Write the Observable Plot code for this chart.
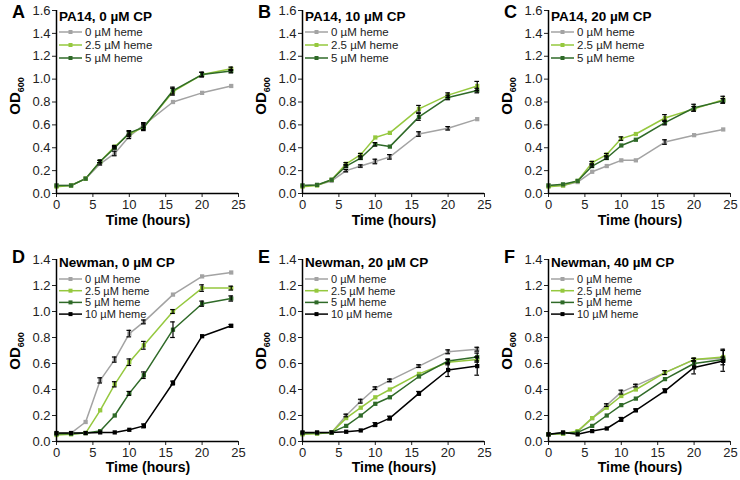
<!DOCTYPE html>
<html>
<head>
<meta charset="utf-8">
<script src="https://cdn.jsdelivr.net/npm/d3@7"></script>
<script src="https://cdn.jsdelivr.net/npm/@observablehq/plot@0.6"></script>
<style>
  html, body { margin: 0; padding: 0; background: #fff; }
  #root { position: relative; width: 740px; height: 480px; overflow: hidden; font-family: "Liberation Sans", Arial, sans-serif; }
  .panel { position: absolute; }
  .panel svg g[aria-label$="tick label"], .panel svg g[aria-label$="tick label"] text { font-size: 13px !important; }
</style>
</head>
<body>
<div id="root"></div>
<script>
// ---------- DATA ----------
const hours = [0, 2, 4, 6, 8, 10, 12, 16, 20, 24];
const hemeLabels = ["0 µM heme", "2.5 µM heme", "5 µM heme", "10 µM heme"];
const panelLetters = ["A", "B", "C", "D", "E", "F"];
const panelTitles = ["PA14, 0 µM CP", "PA14, 10 µM CP", "PA14, 20 µM CP",
                     "Newman, 0 µM CP", "Newman, 20 µM CP", "Newman, 40 µM CP"];
const xTicks = [0, 5, 10, 15, 20, 25];
const yTicksPA14 = [0, 0.2, 0.4, 0.6, 0.8, 1.0, 1.2, 1.4, 1.6];
const yTicksNewman = [0, 0.2, 0.4, 0.6, 0.8, 1.0, 1.2, 1.4];

// Panel A: PA14, 0 µM CP
const A_heme0   = [0.07, 0.07, 0.13, 0.26, 0.35, 0.50, 0.60, 0.80, 0.88, 0.94];
const A_heme2_5 = [0.06, 0.07, 0.13, 0.28, 0.41, 0.52, 0.58, 0.89, 1.04, 1.09];
const A_heme5   = [0.07, 0.07, 0.13, 0.28, 0.40, 0.53, 0.58, 0.90, 1.04, 1.07];
const A_err0    = [0, 0, 0, 0.01, 0.02, 0.02, 0.02, 0, 0, 0];
const A_err2_5  = [0, 0, 0, 0.01, 0.01, 0.02, 0.02, 0.03, 0.02, 0.015];
const A_err5    = [0, 0, 0, 0.01, 0.01, 0.02, 0.03, 0.03, 0.02, 0.015];

// Panel B: PA14, 10 µM CP
const B_heme0   = [0.07, 0.075, 0.11, 0.20, 0.24, 0.28, 0.32, 0.52, 0.57, 0.65];
const B_heme2_5 = [0.06, 0.07, 0.12, 0.26, 0.34, 0.49, 0.53, 0.74, 0.86, 0.94];
const B_heme5   = [0.07, 0.075, 0.12, 0.24, 0.31, 0.43, 0.41, 0.67, 0.84, 0.90];
const B_err0    = [0, 0, 0, 0.01, 0.01, 0.02, 0.02, 0.02, 0.015, 0];
const B_err2_5  = [0, 0, 0, 0.01, 0.01, 0, 0, 0.03, 0.02, 0.04];
const B_err5    = [0, 0, 0, 0.01, 0.01, 0.015, 0, 0.03, 0.02, 0.02];

// Panel C: PA14, 20 µM CP
const C_heme0   = [0.07, 0.07, 0.10, 0.19, 0.24, 0.29, 0.29, 0.45, 0.51, 0.56];
const C_heme2_5 = [0.06, 0.07, 0.11, 0.27, 0.34, 0.48, 0.52, 0.66, 0.74, 0.82];
const C_heme5   = [0.07, 0.08, 0.11, 0.24, 0.31, 0.42, 0.47, 0.62, 0.75, 0.81];
const C_err0    = [0, 0, 0, 0, 0, 0, 0, 0.02, 0, 0];
const C_err2_5  = [0, 0, 0, 0.01, 0.01, 0.015, 0, 0.03, 0.02, 0.03];
const C_err5    = [0, 0, 0, 0.01, 0.01, 0, 0, 0.02, 0.03, 0.02];

// Panel D: Newman, 0 µM CP
const D_heme0   = [0.06, 0.065, 0.15, 0.47, 0.63, 0.83, 0.92, 1.13, 1.27, 1.30];
const D_heme2_5 = [0.05, 0.055, 0.065, 0.24, 0.44, 0.61, 0.74, 1.00, 1.18, 1.18];
const D_heme5   = [0.06, 0.06, 0.065, 0.08, 0.20, 0.37, 0.51, 0.86, 1.06, 1.10];
const D_heme10  = [0.065, 0.065, 0.065, 0.07, 0.07, 0.09, 0.12, 0.45, 0.81, 0.89];
const D_err0    = [0, 0, 0, 0.02, 0.02, 0.025, 0.015, 0, 0, 0];
const D_err2_5  = [0, 0, 0, 0, 0.02, 0.025, 0.03, 0.015, 0.025, 0.015];
const D_err5    = [0, 0, 0, 0, 0, 0.015, 0.025, 0.06, 0.02, 0.02];
const D_err10   = [0, 0, 0, 0, 0, 0, 0.015, 0.015, 0, 0.01];

// Panel E: Newman, 20 µM CP
const E_heme0   = [0.06, 0.065, 0.07, 0.20, 0.31, 0.41, 0.47, 0.58, 0.69, 0.71];
const E_heme2_5 = [0.055, 0.06, 0.07, 0.18, 0.26, 0.34, 0.40, 0.52, 0.61, 0.63];
const E_heme5   = [0.065, 0.065, 0.07, 0.12, 0.20, 0.29, 0.34, 0.50, 0.62, 0.65];
const E_heme10  = [0.07, 0.07, 0.07, 0.075, 0.085, 0.13, 0.18, 0.37, 0.55, 0.58];
const E_err0    = [0, 0, 0, 0.01, 0.015, 0.01, 0.01, 0.01, 0.015, 0.015];
const E_err2_5  = [0, 0, 0, 0, 0, 0, 0, 0, 0.02, 0.02];
const E_err5    = [0, 0, 0, 0, 0, 0, 0, 0, 0.015, 0.03];
const E_err10   = [0, 0, 0, 0, 0, 0.015, 0.015, 0.015, 0.05, 0.07];

// Panel F: Newman, 40 µM CP
const F_heme0   = [0.055, 0.06, 0.075, 0.18, 0.28, 0.38, 0.43, 0.53, 0.63, 0.64];
const F_heme2_5 = [0.055, 0.06, 0.08, 0.18, 0.26, 0.35, 0.40, 0.53, 0.63, 0.65];
const F_heme5   = [0.055, 0.065, 0.07, 0.12, 0.20, 0.28, 0.33, 0.48, 0.60, 0.63];
const F_heme10  = [0.055, 0.07, 0.055, 0.08, 0.10, 0.17, 0.24, 0.39, 0.57, 0.62];
const F_err0    = [0, 0, 0, 0, 0.01, 0.015, 0.01, 0.015, 0.01, 0.01];
const F_err2_5  = [0, 0, 0, 0, 0, 0, 0, 0, 0.01, 0.06];
const F_err5    = [0, 0, 0, 0, 0, 0, 0, 0, 0, 0];
const F_err10   = [0, 0, 0, 0, 0, 0.015, 0.01, 0.015, 0.05, 0.08];

// ---------- BUILD ----------
const colors = ["#a3a3a3", "#95c83e", "#2f6a28", "#000000"];

const panels = [
  {means: [A_heme0, A_heme2_5, A_heme5], errs: [A_err0, A_err2_5, A_err5]},
  {means: [B_heme0, B_heme2_5, B_heme5], errs: [B_err0, B_err2_5, B_err5]},
  {means: [C_heme0, C_heme2_5, C_heme5], errs: [C_err0, C_err2_5, C_err5]},
  {means: [D_heme0, D_heme2_5, D_heme5, D_heme10], errs: [D_err0, D_err2_5, D_err5, D_err10]},
  {means: [E_heme0, E_heme2_5, E_heme5, E_heme10], errs: [E_err0, E_err2_5, E_err5, E_err10]},
  {means: [F_heme0, F_heme2_5, F_heme5, F_heme10], errs: [F_err0, F_err2_5, F_err5, F_err10]}
];

const root = document.getElementById("root");
const lefts = [0, 246, 492];
const W = 246, H = 240;

panels.forEach((p, i) => {
  const row = i < 3 ? 0 : 1;
  const col = i % 3;
  const top = row === 0;
  const yTicks = top ? yTicksPA14 : yTicksNewman;
  const yMax = yTicks[yTicks.length - 1];
  const nS = p.means.length;
  const labels = hemeLabels.slice(0, nS);
  const data = [];
  p.means.forEach((arr, s) => {
    arr.forEach((v, k) => data.push({t: hours[k], v, e: p.errs[s][k], s: hemeLabels[s]}));
  });
  const errData = data.filter(d => d.e > 0);
  const capHalf = 0.32;

  const chart = Plot.plot({
    width: W, height: H,
    marginLeft: 56, marginRight: 8,
    marginTop: top ? 10 : 19,
    marginBottom: top ? 47 : 39,
    style: {fontFamily: "'Liberation Sans', Arial, sans-serif", fontSize: "13px", color: "#222", background: "transparent", overflow: "visible"},
    x: {domain: [0, 25], ticks: xTicks, tickSize: 4, tickPadding: 2, label: null},
    y: {domain: [0, yMax], ticks: yTicks, tickFormat: d3.format(".1f"), tickSize: 4, tickPadding: 2, label: null},
    color: {domain: labels, range: colors.slice(0, nS)},
    marks: [
      Plot.line(data, {x: "t", y: "v", z: "s", stroke: "s", strokeWidth: 1.5}),
      Plot.dot(data, {x: "t", y: "v", fill: "s", symbol: "square", r: 2.4}),
      Plot.ruleX(errData, {x: "t", y1: d => d.v - d.e, y2: d => d.v + d.e, stroke: "#000", strokeWidth: 1.2}),
      Plot.ruleY(errData, {y: d => d.v + d.e, x1: d => d.t - capHalf, x2: d => d.t + capHalf, stroke: "#000", strokeWidth: 1.2}),
      Plot.ruleY(errData, {y: d => d.v - d.e, x1: d => d.t - capHalf, x2: d => d.t + capHalf, stroke: "#000", strokeWidth: 1.2}),
      Plot.ruleX([0], {stroke: "#000", strokeWidth: 1.5}),
      Plot.ruleY([0], {stroke: "#000", strokeWidth: 1.5})
    ]
  });

  const svg = d3.select(chart.tagName.toLowerCase() === "svg" ? chart : chart.querySelector("svg"));
  const font = "'Liberation Sans', Arial, sans-serif";

  // panel letter
  svg.append("text").attr("x", 12).attr("y", top ? 18 : 23).attr("text-anchor", "start")
    .attr("font-family", font).attr("font-size", 18).attr("font-weight", "bold").attr("fill", "#000")
    .text(panelLetters[i]);
  // title
  svg.append("text").attr("x", 59).attr("y", top ? 21 : 27).attr("text-anchor", "start")
    .attr("font-family", font).attr("font-size", 13.5).attr("font-weight", "bold").attr("fill", "#000")
    .text(panelTitles[i]);
  // legend
  const ly0 = top ? 32 : 39, lstep = top ? 13 : 11.7;
  labels.forEach((lab, s) => {
    const y = ly0 + s * lstep;
    svg.append("line").attr("x1", 59).attr("x2", 82).attr("y1", y).attr("y2", y)
      .attr("stroke", colors[s]).attr("stroke-width", 1.5);
    svg.append("rect").attr("x", 68.5).attr("y", y - 2).attr("width", 4).attr("height", 4).attr("fill", colors[s]);
    svg.append("text").attr("x", 85).attr("y", y).attr("dy", "0.35em").attr("text-anchor", "start")
      .attr("font-family", font).attr("font-size", top ? 11.5 : 11).attr("fill", "#222")
      .text(lab);
  });
  // y label OD600
  const yl = svg.append("text")
    .attr("transform", `translate(20,${top ? 96 : 111}) rotate(-90)`)
    .attr("text-anchor", "middle")
    .attr("font-family", font).attr("font-weight", "bold").attr("font-size", 15).attr("fill", "#000");
  yl.append("tspan").text("OD");
  yl.append("tspan").attr("font-size", 9).attr("dy", 4).text("600");
  // x label
  svg.append("text").attr("x", 148).attr("y", top ? 225 : 232)
    .attr("text-anchor", "middle")
    .attr("font-family", font).attr("font-weight", "bold").attr("font-size", 14).attr("fill", "#000")
    .text("Time (hours)");

  const div = document.createElement("div");
  div.className = "panel";
  div.style.left = lefts[col] + "px";
  div.style.top = (row * 240) + "px";
  div.appendChild(chart);
  root.appendChild(div);
});
</script>
</body>
</html>
